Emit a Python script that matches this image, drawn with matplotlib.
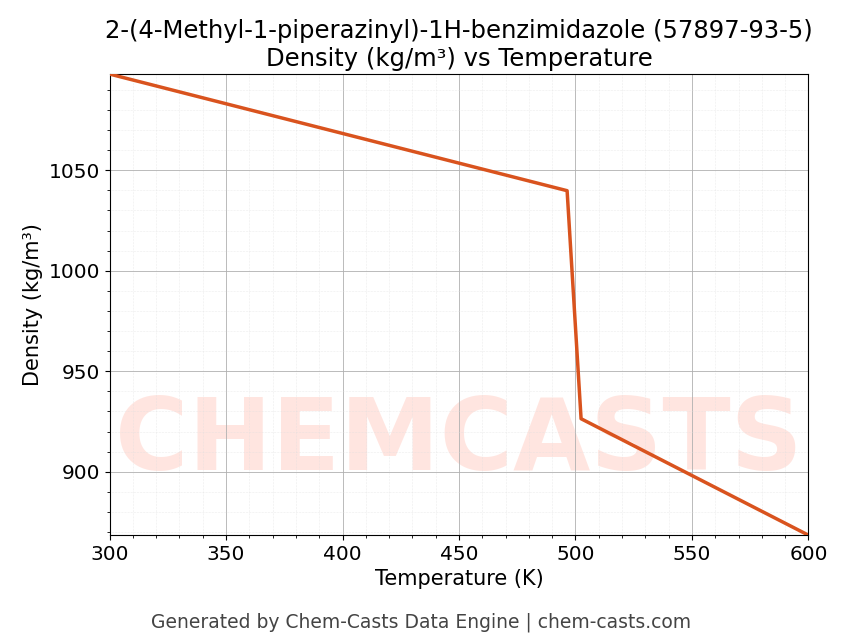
import matplotlib
matplotlib.use("Agg")
import matplotlib.pyplot as plt
from matplotlib.ticker import MultipleLocator

temps = [300, 496.4, 502.4, 600]
density = [1097.8, 1039.8, 926.4, 868.5]

fig = plt.figure(figsize=(8.43, 6.44), dpi=100)
ax = fig.add_axes([0.130, 0.169, 0.829, 0.716])
ax.plot(temps, density, color="#d9531e", lw=2.5, zorder=3)
ax.set_xlim(300, 600)
ax.set_ylim(868.5, 1097.8)
ax.xaxis.set_major_locator(MultipleLocator(50))
ax.xaxis.set_minor_locator(MultipleLocator(10))
ax.yaxis.set_major_locator(MultipleLocator(50))
ax.yaxis.set_minor_locator(MultipleLocator(10))
ax.grid(which="major", color="#b0b0b0", lw=0.6)
ax.grid(which="minor", color="#dddddd", lw=0.4, ls=":")
ax.tick_params(labelsize=14.5)
ax.set_xlabel("Temperature (K)", fontsize=15)
ax.set_ylabel("Density (kg/m³)", fontsize=15)
ax.set_title("2-(4-Methyl-1-piperazinyl)-1H-benzimidazole (57897-93-5)\nDensity (kg/m³) vs Temperature", fontsize=17.5)
ax.text(0.5, 0.2, "CHEMCASTS", transform=ax.transAxes, ha="center", va="center",
        fontsize=72, fontweight="bold", color="#ffd5cc", alpha=0.6, zorder=1, clip_on=True)
fig.text(0.5, 0.025, "Generated by Chem-Casts Data Engine | chem-casts.com", ha="center",
         fontsize=13.5, color="#444444")
fig.savefig("out.png", dpi=100)
